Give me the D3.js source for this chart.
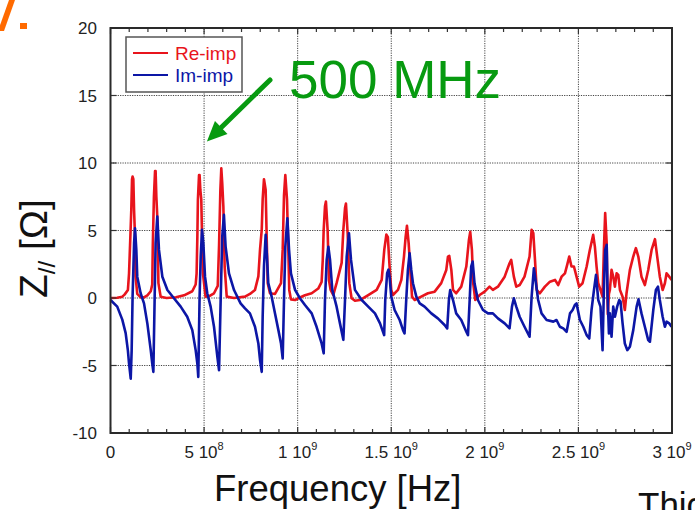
<!DOCTYPE html>
<html>
<head>
<meta charset="utf-8">
<script src="https://cdn.jsdelivr.net/npm/d3@7"></script>
<style>
  html, body { margin: 0; padding: 0; background: #fff; overflow: hidden; }
  svg { display: block; font-family: "Liberation Sans", Arial, sans-serif; }
</style>
</head>
<body>
<script>
const width = 695;
const height = 510;
const GHz = 1e9;

// [frequency in GHz, impedance in ohm]
const reImp = [
  [0.000, 0.0], [0.036, 0.02], [0.063, 0.1], [0.075, 0.25], [0.093, 0.6], [0.099, 1.8], [0.106, 4.5],
  [0.111, 6.5], [0.115, 8.8], [0.118, 9.0], [0.122, 8.8], [0.126, 6.5], [0.131, 4.5], [0.134, 1.6],
  [0.143, 0.3], [0.161, 0.05], [0.179, 0.05], [0.197, 0.2], [0.215, 0.5], [0.223, 1.0], [0.226, 3.9],
  [0.232, 7.5], [0.238, 9.4], [0.241, 9.4], [0.245, 7.5], [0.250, 6.0], [0.256, 1.1], [0.268, 0.1],
  [0.300, 0.0], [0.350, 0.05], [0.393, 0.2], [0.437, 0.5], [0.455, 1.0], [0.460, 1.8], [0.464, 4.5],
  [0.467, 7.3], [0.473, 9.1], [0.476, 9.1], [0.480, 8.0], [0.485, 7.3], [0.490, 4.0], [0.494, 1.8],
  [0.508, 0.1], [0.530, 0.15], [0.553, 0.35], [0.573, 0.9], [0.580, 3.9], [0.587, 8.0], [0.592, 9.6],
  [0.597, 8.5], [0.603, 6.8], [0.610, 2.3], [0.621, 0.1], [0.660, 0.0], [0.690, 0.05], [0.7185, 0.1],
  [0.745, 0.3], [0.772, 0.6], [0.790, 1.6], [0.799, 3.6], [0.808, 5.05], [0.813, 7.3], [0.820, 8.8],
  [0.829, 8.0], [0.834, 4.8], [0.840, 1.1], [0.852, 0.35], [0.879, 0.3], [0.911, 1.1], [0.920, 3.6],
  [0.927, 7.6], [0.934, 9.1], [0.943, 7.3], [0.950, 3.6], [0.955, 0.6], [0.964, -0.1], [0.986, -0.15],
  [1.003, -0.02], [1.039, 0.2], [1.075, 0.35], [1.110, 0.7], [1.128, 1.2], [1.134, 2.8], [1.139, 5.05],
  [1.146, 6.8], [1.151, 7.15], [1.160, 5.05], [1.167, 1.34], [1.176, 0.6], [1.190, 0.22], [1.208, 1.1],
  [1.235, 2.6], [1.244, 5.05], [1.253, 6.66], [1.258, 7.0], [1.267, 4.8], [1.276, 1.1], [1.288, -0.02],
  [1.306, -0.2], [1.333, -0.15], [1.377, 0.22], [1.422, 0.6], [1.449, 1.34], [1.463, 3.6], [1.474, 4.7],
  [1.482, 4.5], [1.491, 2.33], [1.500, 0.6], [1.509, 0.22], [1.536, 0.6], [1.554, 1.34], [1.568, 3.07],
  [1.577, 4.55], [1.584, 5.35], [1.593, 4.06], [1.602, 2.08], [1.611, 0.1], [1.625, -0.15], [1.660, 0.1],
  [1.696, 0.35], [1.732, 0.47], [1.767, 1.1], [1.794, 2.08], [1.803, 3.07], [1.810, 3.12], [1.821, 2.08],
  [1.830, 0.6], [1.847, 0.35], [1.874, 0.84], [1.901, 2.33], [1.915, 4.3], [1.922, 4.9], [1.931, 3.56],
  [1.938, 1.09], [1.949, -0.15], [1.972, 0.22], [1.999, 0.47], [2.025, 0.84], [2.043, 0.6], [2.070, 0.84],
  [2.106, 1.58], [2.132, 2.57], [2.141, 2.82], [2.155, 1.58], [2.168, 0.84], [2.186, 0.96], [2.212, 1.58],
  [2.239, 3.07], [2.250, 5.05], [2.259, 4.8], [2.268, 2.82], [2.277, 0.6], [2.294, 0.35], [2.321, 0.84],
  [2.348, 1.21], [2.375, 1.34], [2.392, 0.96], [2.410, 1.58], [2.428, 1.83], [2.440, 2.45], [2.451, 3.07],
  [2.463, 2.33], [2.476, 2.33], [2.490, 1.58], [2.504, 0.84], [2.522, 1.09], [2.544, 2.33], [2.561, 3.56],
  [2.579, 4.68], [2.588, 3.81], [2.597, 2.33], [2.606, 1.09], [2.618, 0.59], [2.629, 0.1], [2.636, 3.56],
  [2.643, 6.3], [2.651, 4.06], [2.657, -1.2], [2.663, 0.3], [2.668, 0.59], [2.677, 2.08], [2.686, 1.58],
  [2.695, 0.84], [2.704, 1.83], [2.713, 1.71], [2.722, 0.59], [2.736, 0.1], [2.748, -0.89], [2.757, 0.35],
  [2.775, 2.08], [2.793, 3.07], [2.807, 3.69], [2.820, 3.07], [2.837, 1.58], [2.855, 0.96], [2.873, 2.08],
  [2.891, 3.56], [2.909, 4.36], [2.921, 3.07], [2.935, 1.58], [2.950, 0.59], [2.962, 1.09], [2.971, 1.83],
  [2.985, 1.58], [2.998, 1.34]
];

const imImp = [
  [0.000, -0.15], [0.036, -0.64], [0.063, -1.6], [0.081, -2.6], [0.093, -3.9], [0.099, -4.85], [0.108, -5.97],
  [0.113, -3.9], [0.118, 0.1], [0.126, 4.06], [0.131, 5.17], [0.138, 3.56], [0.143, 1.58], [0.161, 0.35],
  [0.179, -0.4], [0.197, -1.9], [0.215, -3.86], [0.223, -4.85], [0.229, -5.47], [0.236, 0.1], [0.241, 4.06],
  [0.250, 6.04], [0.259, 3.56], [0.277, 1.58], [0.304, 0.59], [0.339, -0.02], [0.375, -0.64], [0.410, -1.39],
  [0.437, -2.38], [0.455, -3.86], [0.464, -4.85], [0.469, -5.84], [0.476, 0.1], [0.482, 3.07], [0.489, 5.05],
  [0.496, 4.06], [0.505, 1.58], [0.517, 0.35], [0.535, -0.64], [0.553, -2.13], [0.571, -4.36], [0.580, -5.35],
  [0.589, 0.1], [0.597, 4.55], [0.606, 6.16], [0.615, 3.81], [0.633, 1.83], [0.660, 0.59], [0.695, -0.40],
  [0.7185, -0.77], [0.745, -1.14], [0.772, -2.13], [0.790, -3.37], [0.799, -4.6], [0.808, -5.47], [0.813, -1.39],
  [0.820, 2.33], [0.829, 4.68], [0.836, 3.07], [0.843, 1.1], [0.861, 0.1], [0.879, -1.14], [0.897, -2.38],
  [0.911, -3.37], [0.920, -4.48], [0.927, -0.15], [0.934, 3.8], [0.945, 5.9], [0.954, 3.56], [0.964, 1.83],
  [0.986, 0.6], [1.012, -0.02], [1.039, -0.52], [1.075, -1.14], [1.101, -2.13], [1.128, -3.37], [1.139, -4.1],
  [1.146, -0.15], [1.155, 2.82], [1.164, 3.8], [1.173, 2.82], [1.185, 0.6], [1.208, -0.64], [1.226, -1.88],
  [1.244, -3.1], [1.253, -0.15], [1.262, 3.07], [1.274, 4.8], [1.285, 2.82], [1.306, 0.6], [1.342, -0.15],
  [1.377, -0.64], [1.413, -1.14], [1.440, -1.88], [1.462, -2.75], [1.468, -0.15], [1.478, 1.83], [1.485, 2.1],
  [1.491, 1.58], [1.500, 0.1], [1.518, -0.89], [1.545, -1.63], [1.563, -2.38], [1.571, -2.62], [1.580, -0.15],
  [1.589, 2.08], [1.598, 3.32], [1.607, 2.08], [1.616, 1.09], [1.634, 0.1], [1.652, -0.4], [1.678, -0.64],
  [1.714, -1.14], [1.749, -1.51], [1.785, -2.0], [1.799, -2.25], [1.808, -0.15], [1.815, 0.59], [1.830, -0.15],
  [1.847, -1.14], [1.874, -1.63], [1.901, -2.5], [1.910, -2.75], [1.919, -0.15], [1.927, 2.33], [1.935, 2.7],
  [1.945, 1.09], [1.963, -0.15], [1.990, -0.89], [2.017, -1.14], [2.043, -1.14], [2.070, -1.51], [2.106, -1.88],
  [2.132, -2.25], [2.145, -0.64], [2.155, -0.02], [2.168, -0.64], [2.186, -1.39], [2.212, -2.13], [2.239, -2.87],
  [2.250, 0.1], [2.262, 2.2], [2.273, 1.09], [2.285, -0.15], [2.303, -1.14], [2.330, -1.63], [2.366, -1.75],
  [2.383, -1.63], [2.401, -2.13], [2.419, -2.25], [2.437, -2.5], [2.455, -1.14], [2.469, -0.89], [2.481, -0.52],
  [2.490, -0.4], [2.508, -1.63], [2.526, -2.13], [2.544, -2.75], [2.558, -3.0], [2.570, -0.89], [2.583, 0.59],
  [2.594, 1.71], [2.606, -0.15], [2.618, -0.64], [2.629, -3.86], [2.636, 0.59], [2.643, 3.56], [2.651, 3.94],
  [2.656, 0.1], [2.663, -2.62], [2.668, -1.14], [2.677, -2.87], [2.686, -0.64], [2.695, -1.39], [2.707, -0.64],
  [2.718, -0.15], [2.725, -0.27], [2.736, -1.88], [2.748, -3.37], [2.761, -3.86], [2.775, -3.61], [2.793, -2.38],
  [2.811, -0.64], [2.821, -0.1], [2.837, -1.14], [2.855, -2.13], [2.873, -3.12], [2.882, -3.24], [2.900, -0.89],
  [2.914, 0.59], [2.925, 0.84], [2.935, -0.15], [2.950, -1.39], [2.962, -2.13], [2.971, -1.75], [2.985, -1.88],
  [2.998, -2.13]
];

const yTicks = [-10, -5, 0, 5, 10, 15, 20];
const xTicks = [0, 0.5, 1, 1.5, 2, 2.5, 3];
const xTickMant = ['0', '5', '1', '1.5', '2', '2.5', '3'];
const xTickExp = ['', '8', '9', '9', '9', '9', '9'];
const series = [
  { name: 'Re-imp', data: reImp, color: '#e8141c' },
  { name: 'Im-imp', data: imImp, color: '#0c16a6' },
];

const x = d3.scaleLinear([0, 3 * GHz], [110.5, 672]);
const y = d3.scaleLinear([-10, 20], [433, 28]);

const svg = d3.select('body')
  .append('svg')
  .attr('width', width)
  .attr('height', height);

// orange slide decoration, top-left
svg.append('path')
  .attr('d', 'M-2,31 L9,0 L15,0 L4,31 Z')
  .attr('fill', '#ff6a00');
svg.append('rect')
  .attr('x', 20).attr('y', 23).attr('width', 7).attr('height', 6)
  .attr('fill', '#ff6a00');

// grid
const grid = svg.append('g')
  .attr('stroke', '#444')
  .attr('stroke-width', 1)
  .attr('stroke-dasharray', '1.2,1.2');
grid.selectAll('.gx')
  .data(xTicks.slice(1, -1))
  .join('line')
    .attr('x1', d => x(d * GHz)).attr('x2', d => x(d * GHz))
    .attr('y1', y(-10)).attr('y2', y(20));
grid.selectAll('.gy')
  .data(yTicks.slice(1, -1))
  .join('line')
    .attr('y1', d => y(d)).attr('y2', d => y(d))
    .attr('x1', x(0)).attr('x2', x(3 * GHz));

// curves
const line = d3.line()
  .x(d => x(d[0] * GHz))
  .y(d => y(d[1]));

svg.append('g')
  .selectAll('path')
  .data(series)
  .join('path')
    .attr('fill', 'none')
    .attr('stroke', d => d.color)
    .attr('stroke-width', 2.6)
    .attr('stroke-linejoin', 'round')
    .attr('d', d => line(d.data));

// ticks, pointing inward on all four sides
const minor = x.ticks(30);
const tickG = svg.append('g').attr('stroke', '#333').attr('stroke-width', 1.2);
[[y(-10), -1], [y(20), 1]].forEach(([y0, dir]) => {
  tickG.append('g').selectAll('line')
    .data(minor)
    .join('line')
      .attr('x1', d => x(d)).attr('x2', d => x(d))
      .attr('y1', y0).attr('y2', d => y0 + dir * (xTicks.includes(Math.round(d / 1e8) / 10) ? 6 : 4));
});
[[x(0), 1], [x(3 * GHz), -1]].forEach(([x0, dir]) => {
  tickG.append('g').selectAll('line')
    .data(yTicks)
    .join('line')
      .attr('y1', d => y(d)).attr('y2', d => y(d))
      .attr('x1', x0).attr('x2', x0 + dir * 6);
});

// frame
svg.append('rect')
  .attr('x', x(0)).attr('y', y(20))
  .attr('width', x(3 * GHz) - x(0)).attr('height', y(-10) - y(20))
  .attr('fill', 'none')
  .attr('stroke', '#2a2a2a')
  .attr('stroke-width', 2);

// tick labels
svg.append('g')
  .attr('font-size', 17)
  .attr('fill', '#222')
  .attr('text-anchor', 'end')
  .selectAll('text')
  .data(yTicks)
  .join('text')
    .attr('x', 97)
    .attr('y', d => y(d) + 6)
    .text(d => d);

const xl = svg.append('g')
  .attr('font-size', 17)
  .attr('fill', '#222')
  .attr('text-anchor', 'middle')
  .selectAll('text')
  .data(xTicks)
  .join('text')
    .attr('x', d => x(d * GHz))
    .attr('y', 458);
xl.append('tspan').text((d, i) => xTickExp[i] ? xTickMant[i] + ' 10' : xTickMant[i]);
xl.filter((d, i) => xTickExp[i])
  .append('tspan')
    .attr('font-size', 11)
    .attr('dy', -8)
    .text((d, i) => xTickExp[xTicks.indexOf(d)]);

// axis titles
svg.append('text')
  .attr('x', 214)
  .attr('y', 501)
  .attr('font-size', 36.5)
  .attr('fill', '#111')
  .text('Frequency [Hz]');

const yt = svg.append('text')
  .attr('transform', 'translate(47,298) rotate(-90)')
  .attr('font-size', 39)
  .attr('fill', '#111');
yt.append('tspan').text('Z');
yt.append('tspan').attr('font-size', 24).attr('dy', 8).text('//');
yt.append('tspan').attr('dy', -8).text(' [\u03A9]');

svg.append('text')
  .attr('x', 638)
  .attr('y', 517)
  .attr('font-size', 35)
  .attr('fill', '#111')
  .text('Thic');

// legend
const legend = svg.append('g');
legend.append('rect')
  .attr('x', 126).attr('y', 37).attr('width', 116).attr('height', 55)
  .attr('fill', '#fff')
  .attr('stroke', '#555')
  .attr('stroke-width', 1.5);
const item = legend.selectAll('.item')
  .data(series)
  .join('g')
    .attr('transform', (d, i) => `translate(0,${53 + i * 22})`);
item.append('line')
  .attr('x1', 133).attr('x2', 168)
  .attr('stroke', d => d.color)
  .attr('stroke-width', 2);
item.append('text')
  .attr('x', 175)
  .attr('y', 7)
  .attr('font-size', 19)
  .attr('fill', d => d.color)
  .text(d => d.name);

// 500 MHz annotation
const green = '#079a10';
const tip = [x(0.515 * GHz), y(11.6)];
const tail = [270, 80];
const ang = Math.atan2(tail[1] - tip[1], tail[0] - tip[0]);
const headLen = 20, headW = 9;
const base = [tip[0] + headLen * Math.cos(ang), tip[1] + headLen * Math.sin(ang)];
svg.append('line')
  .attr('x1', tail[0]).attr('y1', tail[1])
  .attr('x2', base[0]).attr('y2', base[1])
  .attr('stroke', green)
  .attr('stroke-width', 5)
  .attr('stroke-linecap', 'round');
svg.append('path')
  .attr('d', `M${tip[0]},${tip[1]}
    L${base[0] - headW * Math.sin(ang)},${base[1] + headW * Math.cos(ang)}
    L${base[0] + headW * Math.sin(ang)},${base[1] - headW * Math.cos(ang)} Z`)
  .attr('fill', green);
svg.append('text')
  .attr('x', 289)
  .attr('y', 98)
  .attr('font-size', 53)
  .attr('fill', green)
  .text('500 MHz');
</script>
</body>
</html>
